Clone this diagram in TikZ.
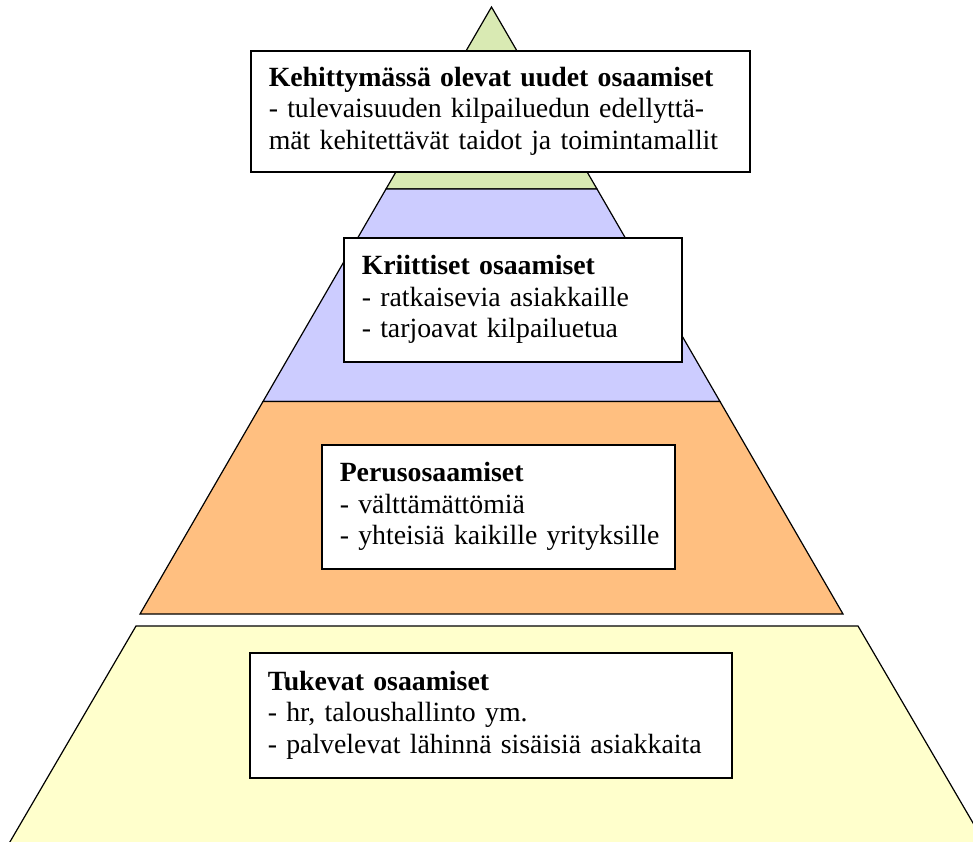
\documentclass[tikz,border=0pt]{standalone}
\usepackage{fontspec}
\setmainfont{Liberation Serif}
\definecolor{tiergreen}{RGB}{217,234,179}
\definecolor{tierblue}{RGB}{204,204,255}
\definecolor{tierorange}{RGB}{255,191,128}
\definecolor{tieryellow}{RGB}{255,255,204}
\newcommand{\boxline}[1]{\mbox{#1}}
\tikzset{
  tier/.style={draw=black, line width=1.2pt, line join=miter},
  labelbox/.style={draw=black, fill=white, line width=1.5pt, anchor=north west,
    inner xsep=18pt, inner ysep=0pt, align=left,
    font=\fontsize{27.8}{31.5}\selectfont}
}
\begin{document}
\begin{tikzpicture}[x=1pt, y=-1pt]
  \useasboundingbox (0,0) rectangle (973,841);
  \clip (0,0) rectangle (973,841);

  % pyramid tiers, top to bottom
  \filldraw[tier, fill=tiergreen]  (491.5,7) -- (597,189) -- (386,189) -- cycle;
  \filldraw[tier, fill=tierblue]   (386,189) -- (597,189) -- (720,401.5) -- (263,401.5) -- cycle;
  \filldraw[tier, fill=tierorange] (263,401.5) -- (720,401.5) -- (843,614) -- (140,614) -- cycle;
  \filldraw[tier, fill=tieryellow] (136,626) -- (858,626) -- (988.8,850) -- (5.2,850) -- cycle;

  % labels
  \node[labelbox, text width=463pt, minimum height=121pt] (emerging) at (250,50)
    {\boxline{\textbf{Kehittymässä olevat uudet osaamiset}}\\
     \boxline{- tulevaisuuden kilpailuedun edellyttä-}\\
     \boxline{mät kehitettävät taidot ja toimintamallit}};
  \node[labelbox, text width=302pt, minimum height=124pt] (critical) at (343,237)
    {\boxline{\textbf{Kriittiset osaamiset}}\\
     \boxline{- ratkaisevia asiakkaille}\\
     \boxline{- tarjoavat kilpailuetua}};
  \node[labelbox, text width=317pt, minimum height=124pt] (basic) at (321,444)
    {\boxline{\textbf{Perusosaamiset}}\\
     \boxline{- välttämättömiä}\\
     \boxline{- yhteisiä kaikille yrityksille}};
  \node[labelbox, text width=446pt, minimum height=125pt] (support) at (249,652)
    {\boxline{\textbf{Tukevat osaamiset}}\\
     \boxline{- hr, taloushallinto ym.}\\
     \boxline{- palvelevat lähinnä sisäisiä asiakkaita}};
\end{tikzpicture}
\end{document}
